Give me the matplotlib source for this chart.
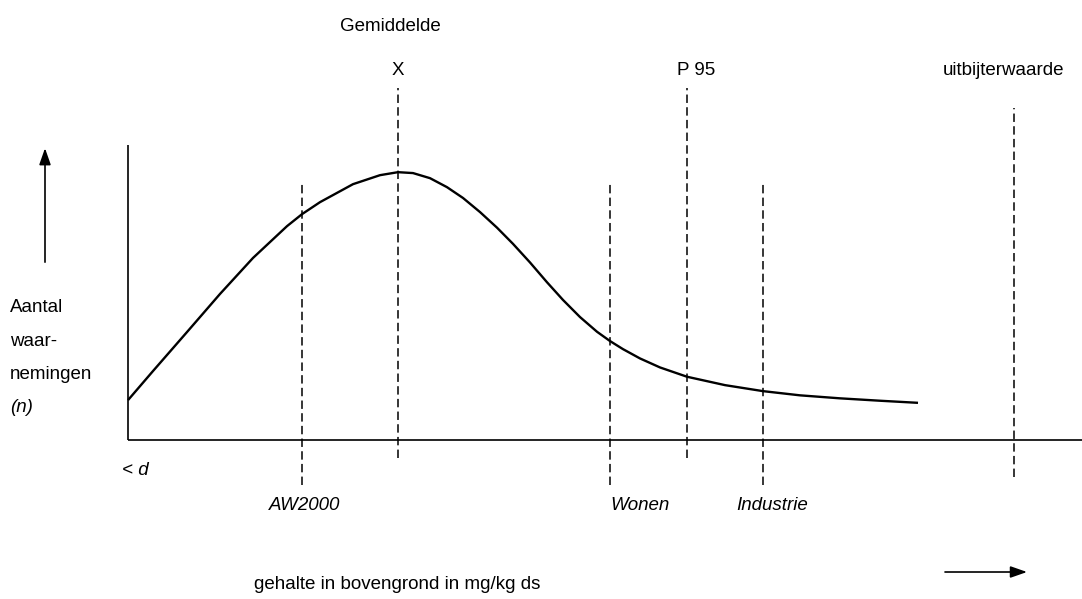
import matplotlib
matplotlib.use("Agg")
import matplotlib.pyplot as plt

plt.rcParams['font.family'] = ['Liberation Sans', 'DejaVu Sans']

# distribution curve (concentration, number of observations)
conc = [0.0, 2.5, 5.9, 9.2, 12.5, 15.9, 17.4, 19.2, 22.5, 25.2,
        27.0, 28.5, 30.2, 31.9, 33.5, 35.2, 36.9, 38.5, 40.2, 41.9, 43.5, 45.2,
        46.9, 48.2, 49.5, 51.2, 53.2, 55.9, 59.7, 63.5, 67.2, 71.2, 75.2, 79.0]
count = [13.3, 23.0, 36.0, 48.7, 60.7, 71.3, 75.3, 79.3, 85.3, 88.3,
         89.3, 89.0, 87.3, 84.3, 80.7, 76.0, 70.8, 65.4, 59.2, 52.6, 46.7, 41.0,
         36.1, 33.0, 30.3, 27.2, 24.2, 21.1, 18.3, 16.3, 14.9, 13.9, 13.1, 12.4]

# reference values on the concentration axis
below_names = ['AW2000', 'Wonen', 'Industrie']
below_pos = [17.4, 48.2, 63.5]
below_label_x = [17.7, 51.2, 64.4]
above_names = ['X', 'P 95', 'uitbijterwaarde']
above_pos = [27.0, 55.9, 88.6]
above_top = [117.3, 117.3, 110.7]
above_bottom = [-6.0, -6.0, -12.3]

fig = plt.figure(figsize=(10.82, 5.99), dpi=100)
ax = fig.add_axes([0, 0, 1, 1])
ax.set_xlim(-12.8, 95.4)
ax.set_ylim(-53.0, 146.7)
ax.axis('off')

fs = 13.5
dash = (0, (5.5, 2.8))

# axes
ax.plot([0, 0], [0, 98.3], color='black', lw=1.2, solid_capstyle='butt')
ax.plot([0, 95.4], [0, 0], color='black', lw=1.2, solid_capstyle='butt')

# curve
ax.plot(conc, count, color='black', lw=1.7, solid_capstyle='butt', solid_joinstyle='round')

# dashed reference lines
for x in below_pos:
    ax.plot([x, x], [-15, 85.7], color='black', lw=1.1, linestyle=dash)
for x, t, b in zip(above_pos, above_top, above_bottom):
    ax.plot([x, x], [b, t], color='black', lw=1.1, linestyle=dash)

# labels below
for name, x in zip(below_names, below_label_x):
    ax.text(x, -21.7, name, ha='center', va='center', fontsize=fs, style='italic')

# labels above
ax.text(26.2, 137.7, 'Gemiddelde', ha='center', va='center', fontsize=fs)
ax.text(27.0, 123.3, above_names[0], ha='center', va='center', fontsize=fs)
ax.text(54.9, 123.3, above_names[1], ha='left', va='center', fontsize=fs)
ax.text(87.6, 123.3, above_names[2], ha='center', va='center', fontsize=fs)

# y label
for txt, y in zip(['Aantal', 'waar-', 'nemingen'], [44.3, 32.7, 21.7]):
    ax.text(-11.8, y, txt, ha='left', va='center', fontsize=fs)
ax.text(-11.8, 10.7, '(n)', ha='left', va='center', fontsize=fs, style='italic')
ax.text(-0.6, -10.0, '< d', ha='left', va='center', fontsize=fs, style='italic')

# x label
ax.text(26.9, -48.3, 'gehalte in bovengrond in mg/kg ds', ha='center', va='center', fontsize=fs)

# arrows
head = '-|>,head_length=1.0,head_width=0.35'
ax.annotate('', xy=(-8.3, 97.3), xytext=(-8.3, 59.3),
            arrowprops=dict(arrowstyle=head, color='black', lw=1.2, shrinkA=0, shrinkB=0))
ax.annotate('', xy=(89.9, -44.0), xytext=(81.7, -44.0),
            arrowprops=dict(arrowstyle=head, color='black', lw=1.2, shrinkA=0, shrinkB=0))

fig.savefig('out.png', dpi=100, facecolor='white')
